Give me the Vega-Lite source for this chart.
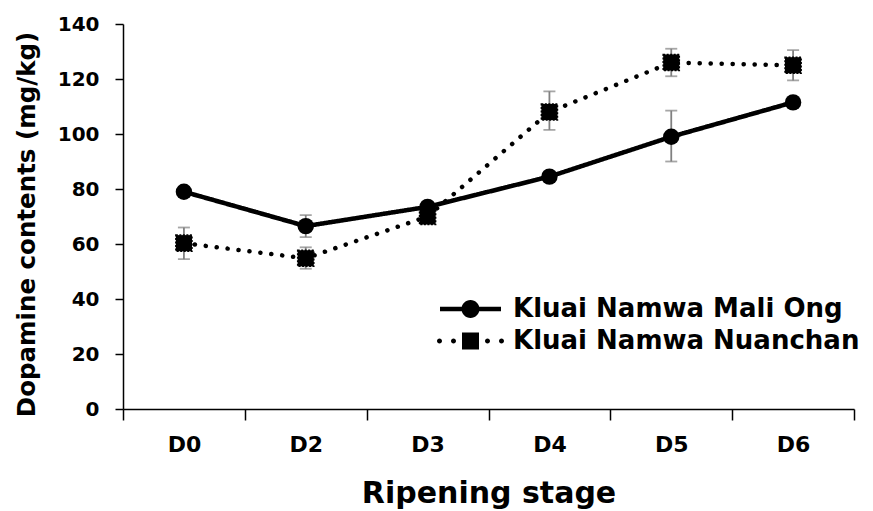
{
  "$schema": "https://vega.github.io/schema/vega-lite/v6.json",
  "width": 731,
  "height": 385,
  "autosize": {"type": "none"},
  "padding": {"left": 123, "top": 24, "right": 19, "bottom": 102},
  "background": "white",
  "config": {"view": {"stroke": null}, "font": "DejaVu Sans"},
  "data": {
    "values": [
      {"stage": "D0", "series": "Kluai Namwa Mali Ong", "value": 79, "lo": 78, "hi": 80},
      {"stage": "D2", "series": "Kluai Namwa Mali Ong", "value": 66.5, "lo": 62.5, "hi": 70.5},
      {"stage": "D3", "series": "Kluai Namwa Mali Ong", "value": 73.5, "lo": 72, "hi": 75},
      {"stage": "D4", "series": "Kluai Namwa Mali Ong", "value": 84.5, "lo": 83, "hi": 86},
      {"stage": "D5", "series": "Kluai Namwa Mali Ong", "value": 99, "lo": 90, "hi": 108.5},
      {"stage": "D6", "series": "Kluai Namwa Mali Ong", "value": 111.5, "lo": 110.5, "hi": 112.5},
      {"stage": "D0", "series": "Kluai Namwa Nuanchan", "value": 60.3, "lo": 54.5, "hi": 66},
      {"stage": "D2", "series": "Kluai Namwa Nuanchan", "value": 54.8, "lo": 51, "hi": 58.8},
      {"stage": "D3", "series": "Kluai Namwa Nuanchan", "value": 70, "lo": 68, "hi": 72},
      {"stage": "D4", "series": "Kluai Namwa Nuanchan", "value": 108, "lo": 101.5, "hi": 115.5},
      {"stage": "D5", "series": "Kluai Namwa Nuanchan", "value": 126, "lo": 121, "hi": 131},
      {"stage": "D6", "series": "Kluai Namwa Nuanchan", "value": 125, "lo": 119.5, "hi": 130.5}
    ]
  },
  "encoding": {
    "x": {
      "field": "stage",
      "type": "ordinal",
      "sort": ["D0", "D2", "D3", "D4", "D5", "D6"],
      "scale": {"type": "band", "paddingInner": 0, "paddingOuter": 0},
      "bandPosition": 0.5,
      "axis": {
        "title": "Ripening stage",
        "titleFont": "DejaVu Sans",
        "titleFontSize": 30,
        "titleFontWeight": "bold",
        "titleColor": "black",
        "titlePadding": 23,
        "labelFont": "DejaVu Sans",
        "labelFontSize": 22,
        "labelFontWeight": "bold",
        "labelColor": "black",
        "labelPadding": 14,
        "labelAngle": 0,
        "tickBand": "extent",
        "tickSize": 11,
        "tickColor": "black",
        "tickWidth": 1.5,
        "domainColor": "black",
        "domainWidth": 1.5,
        "grid": false
      }
    }
  },
  "layer": [
    {
      "mark": {"type": "rule", "color": "#808080", "strokeWidth": 1.8},
      "encoding": {
        "y": {
          "field": "lo",
          "type": "quantitative",
          "scale": {"domain": [0, 140]},
          "axis": {
            "values": [0, 20, 40, 60, 80, 100, 120, 140],
            "title": "Dopamine contents (mg/kg)",
            "titleFont": "DejaVu Sans",
            "titleFontSize": 24.5,
            "titleFontWeight": "bold",
            "titleColor": "black",
            "titlePadding": 18,
            "titleY": 200,
            "labelFont": "DejaVu Sans",
            "labelFontSize": 20,
            "labelFontWeight": "bold",
            "labelColor": "black",
            "labelPadding": 16,
            "tickSize": 8,
            "tickColor": "black",
            "tickWidth": 1.5,
            "domainColor": "black",
            "domainWidth": 1.5,
            "grid": false
          }
        },
        "y2": {"field": "hi"}
      }
    },
    {
      "mark": {"type": "tick", "color": "#808080", "size": 12, "thickness": 1.8},
      "encoding": {"y": {"field": "lo", "type": "quantitative"}}
    },
    {
      "mark": {"type": "tick", "color": "#808080", "size": 12, "thickness": 1.8},
      "encoding": {"y": {"field": "hi", "type": "quantitative"}}
    },
    {
      "mark": {"type": "line", "color": "black", "strokeWidth": 4.5, "strokeCap": "round"},
      "encoding": {
        "y": {"field": "value", "type": "quantitative"},
        "strokeDash": {
          "field": "series",
          "type": "nominal",
          "scale": {"domain": ["Kluai Namwa Mali Ong", "Kluai Namwa Nuanchan"], "range": [[1, 0], [0.1, 10.9]]},
          "legend": null
        }
      }
    },
    {
      "transform": [{"filter": "datum.series == 'Kluai Namwa Mali Ong'"}],
      "mark": {"type": "point", "shape": "circle", "filled": true, "color": "black", "size": 270, "opacity": 1},
      "encoding": {"y": {"field": "value", "type": "quantitative"}}
    },
    {
      "transform": [{"filter": "datum.series == 'Kluai Namwa Nuanchan'"}],
      "mark": {"type": "point", "shape": "square", "filled": true, "fill": "black", "stroke": "black", "strokeWidth": 1.5, "strokeDash": [2, 1.5], "size": 260, "opacity": 1},
      "encoding": {"y": {"field": "value", "type": "quantitative"}}
    },
    {
      "transform": [{"filter": "false"}],
      "mark": {"type": "point", "filled": true, "color": "black", "opacity": 1},
      "encoding": {
        "shape": {
          "field": "series",
          "type": "nominal",
          "scale": {
            "domain": ["Kluai Namwa Mali Ong", "Kluai Namwa Nuanchan"],
            "range": [
              "M-3.05,-0.22H3.05V0.22H-3.05Z M0.9,0A0.9,0.9,0,1,1,-0.9,0A0.9,0.9,0,1,1,0.9,0Z",
              "M-2.85,0A0.25,0.25,0,1,1,-3.35,0A0.25,0.25,0,1,1,-2.85,0Z M-1.45,0A0.25,0.25,0,1,1,-1.95,0A0.25,0.25,0,1,1,-1.45,0Z M-0.85,-0.85H0.85V0.85H-0.85Z M1.95,0A0.25,0.25,0,1,1,1.45,0A0.25,0.25,0,1,1,1.95,0Z M3.35,0A0.25,0.25,0,1,1,2.85,0A0.25,0.25,0,1,1,3.35,0Z"
            ]
          },
          "legend": {
            "orient": "none",
            "legendX": 334.5,
            "legendY": 272,
            "padding": 0,
            "title": null,
            "symbolSize": 400,
            "symbolFillColor": "black",
            "symbolStrokeWidth": 0,
            "symbolOpacity": 1,
            "labelFont": "DejaVu Sans",
            "labelFontSize": 26,
            "labelFontWeight": "bold",
            "labelColor": "black",
            "labelOffset": 29.5,
            "labelLimit": 500,
            "rowPadding": 6
          }
        }
      }
    }
  ],
  "resolve": {"scale": {"shape": "independent"}, "legend": {"shape": "independent"}}
}
